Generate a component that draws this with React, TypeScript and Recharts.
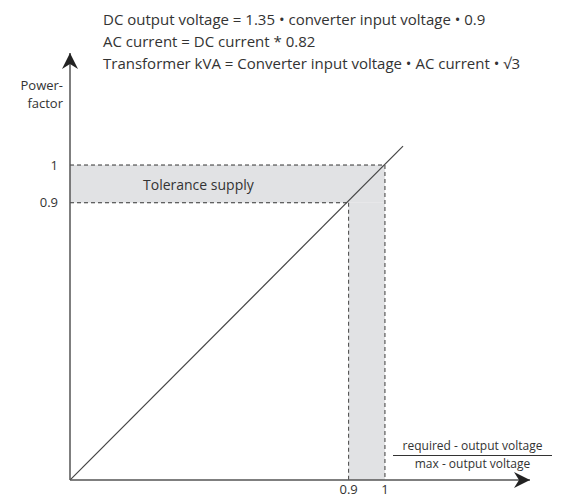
import {
  LineChart,
  Line,
  XAxis,
  YAxis,
  ReferenceArea,
  ReferenceLine,
  ReferenceDot,
} from "recharts";

// schematic axes: the origin is not at 0, only 0.9 and 1 are marked
const xDomain = [0.132, 1.4];
const yDomain = [0.165, 1.297];
const xTicks = [0.9, 1];
const yTicks = [0.9, 1];

// the diagonal (power factor follows the voltage ratio)
const diagX = [0.132, 1.05];
const diagY = [0.165, 1.05];

const tolLow = 0.9;
const tolHigh = 1;

const formulas = [
  "DC output voltage = 1.35 \u2022 converter input voltage \u2022 0.9",
  "AC current = DC current * 0.82",
  "Transformer kVA = Converter input voltage \u2022 AC current \u2022 \u221A3",
];

const diagData = diagX.map((x, i) => ({ x, y: diagY[i] }));

const FONT = "'Open Sans', sans-serif";
const TEXT = "#333";
const BAND = "#e1e2e4";

const ArrowRight = (props: any) => {
  const { cx, cy } = props;
  return (
    <path
      d={`M${cx},${cy} L${cx - 16},${cy - 8} L${cx - 11},${cy} L${cx - 16},${cy + 8} Z`}
      fill="#222"
    />
  );
};

const ArrowUp = (props: any) => {
  const { cx, cy } = props;
  return (
    <path
      d={`M${cx},${cy} L${cx - 8},${cy + 16} L${cx},${cy + 11} L${cx + 8},${cy + 16} Z`}
      fill="#222"
    />
  );
};

export default function App() {
  return (
    <div style={{ position: "absolute", left: 0, top: 0, width: 572, height: 498, background: "#fff", fontFamily: FONT, color: TEXT }}>
      <LineChart
        width={572}
        height={498}
        data={diagData}
        margin={{ top: 53, right: 42, bottom: 0, left: 0 }}
      >
        <XAxis
          dataKey="x"
          type="number"
          domain={xDomain}
          allowDataOverflow
          ticks={xTicks}
          tickFormatter={(v) => String(v)}
          height={18}
          tickLine={false}
          tickSize={0}
          tickMargin={5}
          axisLine={{ stroke: "#555", strokeWidth: 1.5 }}
          tick={{ fill: TEXT, fontSize: 13, fontFamily: FONT }}
        />
        <YAxis
          type="number"
          domain={yDomain}
          allowDataOverflow
          ticks={yTicks}
          tickFormatter={(v) => String(v)}
          width={70}
          tickLine={false}
          tickSize={0}
          tickMargin={12}
          axisLine={{ stroke: "#555", strokeWidth: 1.5 }}
          tick={{ fill: TEXT, fontSize: 13, fontFamily: FONT }}
        />

        {/* tolerance bands */}
        <ReferenceArea x1={xDomain[0]} x2={tolHigh} y1={tolLow} y2={tolHigh} fill={BAND} fillOpacity={1} stroke="none" ifOverflow="visible" />
        <ReferenceArea x1={tolLow} x2={tolHigh} y1={yDomain[0]} y2={tolLow} fill={BAND} fillOpacity={1} stroke="none" ifOverflow="visible" />

        {/* dashed guides */}
        <ReferenceLine segment={[{ x: xDomain[0], y: tolHigh }, { x: tolHigh, y: tolHigh }]} stroke="#333" strokeDasharray="4 3" ifOverflow="visible" />
        <ReferenceLine segment={[{ x: xDomain[0], y: tolLow }, { x: tolLow, y: tolLow }]} stroke="#333" strokeDasharray="4 3" ifOverflow="visible" />
        <ReferenceLine segment={[{ x: tolLow, y: tolLow }, { x: tolLow, y: yDomain[0] }]} stroke="#444" strokeDasharray="4 3" ifOverflow="visible" />
        <ReferenceLine segment={[{ x: tolHigh, y: tolHigh }, { x: tolHigh, y: yDomain[0] }]} stroke="#777" strokeDasharray="4 3" strokeWidth={1.5} ifOverflow="visible" />

        <Line
          dataKey="y"
          type="linear"
          stroke="#444"
          strokeWidth={1.2}
          dot={false}
          activeDot={false}
          isAnimationActive={false}
        />

        <ReferenceDot x={xDomain[1]} y={yDomain[0]} shape={ArrowRight} ifOverflow="visible" />
        <ReferenceDot x={xDomain[0]} y={yDomain[1]} shape={ArrowUp} ifOverflow="visible" />
      </LineChart>

      {/* formulas above the chart */}
      <div style={{ position: "absolute", left: 103, top: 8, fontSize: 15, lineHeight: "22px", whiteSpace: "nowrap" }}>
        {formulas.map((f) => (
          <div key={f}>{f}</div>
        ))}
      </div>

      {/* y axis title */}
      <div style={{ position: "absolute", right: 572 - 63, top: 76, fontSize: 13, lineHeight: "18px", textAlign: "right" }}>
        <div>Power-</div>
        <div>factor</div>
      </div>

      <div style={{ position: "absolute", left: 143, top: 175, fontSize: 14, lineHeight: "20px", whiteSpace: "nowrap" }}>
        Tolerance supply
      </div>

      {/* x axis title as a fraction */}
      <div style={{ position: "absolute", left: 393, top: 438, width: 159, fontSize: 12, lineHeight: "16px", textAlign: "center", whiteSpace: "nowrap" }}>
        <div style={{ borderBottom: "1.2px solid #333", paddingBottom: 1 }}>required - output voltage</div>
        <div>max - output voltage</div>
      </div>
    </div>
  );
}
